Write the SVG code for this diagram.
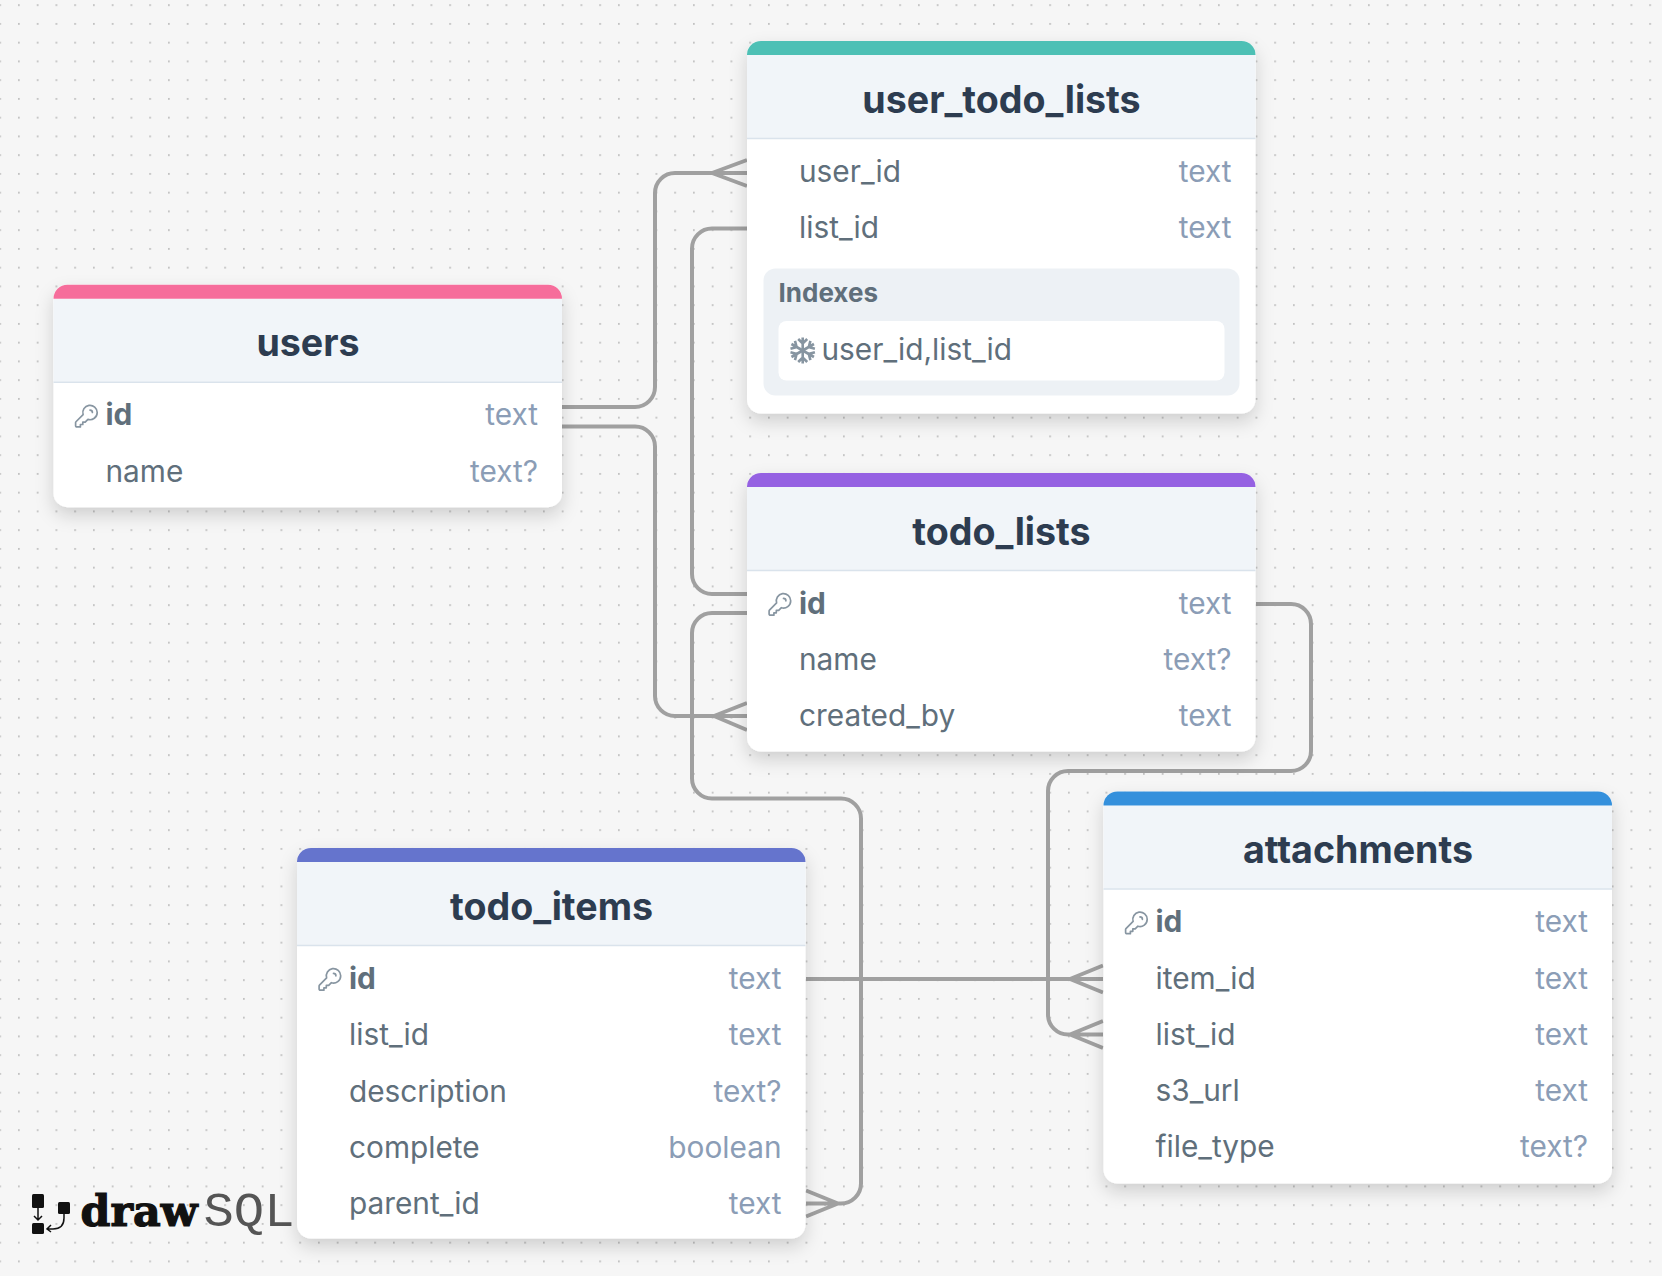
<svg xmlns="http://www.w3.org/2000/svg" width="1662" height="1276" viewBox="0 0 1662 1276">
<style>
text{font-family:Inter,"Liberation Sans",sans-serif}
.title{font-size:37.600px;font-weight:700;fill:#2d3c50;text-anchor:middle}
.n{font-size:29.800px;fill:#606f7b}
.k{font-size:29.800px;font-weight:700;fill:#606f7b}
.t{font-size:29.800px;fill:#8b9db6;text-anchor:end}
.card{fill:#fff}
.head{fill:#f1f5f9}
.rule{stroke:#dae3ec;stroke-width:1.5;fill:none}
.conn{fill:none;stroke:#a0a0a0;stroke-width:4}
.key{fill:none;stroke:#8795a1;stroke-width:1.4;stroke-linecap:round;stroke-linejoin:round}
</style>
<defs>
<pattern id="dots" x="18" y="4.2" width="18.75" height="18.75" patternUnits="userSpaceOnUse"><circle cx="0.9" cy="0.9" r="0.9" fill="#b0b0b0"/></pattern>
<filter id="sh" x="-10%" y="-10%" width="120%" height="130%"><feDropShadow dx="0" dy="8" stdDeviation="9" flood-color="#000" flood-opacity="0.16"/></filter>
<g id="keyicon"><path class="key" transform="scale(1.2)" d="M15 7a2 2 0 012 2m4 0a6 6 0 01-7.743 5.743L11 17H9v2H7v2H4a1 1 0 01-1-1v-2.586a1 1 0 01.293-.707l5.964-5.964A6 6 0 1121 9z"/></g>
</defs>
<rect width="1662" height="1276" fill="#f6f6f6"/>
<rect width="1662" height="1276" fill="url(#dots)"/>
<g id="connectors" class="conn">
<path d="M562 407H635A20 20 0 0 0 655 387V193A20 20 0 0 1 675 173H747M712 173L747 160M712 173L747 186"/>
<path d="M562 426.500H635A20 20 0 0 1 655 446.500V696A20 20 0 0 0 675 716H747M714 716L747 703M714 716L747 730"/>
<path d="M747 228.500H712A20 20 0 0 0 692 248.500V574A20 20 0 0 0 712 594H747"/>
<path d="M747 613H712A20 20 0 0 0 692 633V778.500A20 20 0 0 0 712 798.500H841A20 20 0 0 1 861 818.500V1183.500A20 20 0 0 1 841 1203.500H806M838 1203.500L806 1190.500M838 1203.500L806 1216.500"/>
<path d="M1256 604H1291A20 20 0 0 1 1311 624V751A20 20 0 0 1 1291 771H1068A20 20 0 0 0 1048 791V1014.500A20 20 0 0 0 1068 1034.500H1103M1070 1034.500L1103 1021M1070 1034.500L1103 1048"/>
<path d="M806 979H1103M1070 979L1103 965.500M1070 979L1103 992.500"/>
</g>
<g id="logo">
<rect x="32" y="1194" width="12" height="14" rx="1.500" fill="#111"/>
<rect x="32" y="1223" width="12" height="11" rx="1.500" fill="#111"/>
<rect x="58" y="1202" width="12" height="12" rx="1.500" fill="#111"/>
<path d="M38 1208V1220M34 1216L38 1220L42 1216M64 1214V1218Q64 1229 53 1229H47M51 1225L47 1229L51 1232" fill="none" stroke="#111" stroke-width="1.500"/>
<text x="80.500" y="1226" font-size="42" font-weight="700" textLength="117" lengthAdjust="spacingAndGlyphs" style="font-family:'DejaVu Serif',serif" fill="#111" stroke="#111" stroke-width="1.2">draw</text>
<text x="203.500" y="1226" font-size="48" textLength="91" lengthAdjust="spacingAndGlyphs" style="font-family:'Liberation Mono',monospace" fill="#555">SQL</text>
</g>
<g id="users" transform="translate(53.500 284.700)">
<rect class="card" width="508.500" height="222.500" rx="14" filter="url(#sh)"/>
<path class="head" d="M0 14H508.500V97H0Z"/><path fill="#f66d9b" d="M0 14A14 14 0 0 1 14 0H494.500A14 14 0 0 1 508.500 14Z"/><path class="rule" d="M0 97.500H508.500"/>
<text class="title" x="254.500" y="71.500">users</text>
<use href="#keyicon" x="18.500" y="117"/><text class="k" x="52" y="140.500">id</text><text class="t" x="484.500" y="140.500">text</text>
<text class="n" x="52" y="197">name</text><text class="t" x="484.500" y="197">text?</text>
</g>
<g id="user_todo_lists" transform="translate(747 41)">
<rect class="card" width="508.500" height="372.500" rx="14" filter="url(#sh)"/>
<path class="head" d="M0 14H508.500V97H0Z"/><path fill="#4dc0b5" d="M0 14A14 14 0 0 1 14 0H494.500A14 14 0 0 1 508.500 14Z"/><path class="rule" d="M0 97.500H508.500"/>
<text class="title" x="254.500" y="71.500">user_todo_lists</text>
<text class="n" x="52" y="140.500">user_id</text><text class="t" x="484.500" y="140.500">text</text>
<text class="n" x="52" y="197">list_id</text><text class="t" x="484.500" y="197">text</text>
<rect x="16.500" y="227.500" width="476" height="127" rx="12" fill="#edf1f5"/>
<rect x="31.500" y="280" width="446" height="59.500" rx="8" fill="#fff"/>
<text x="31.500" y="261" font-size="26" font-weight="700" fill="#606f7b">Indexes</text>
<g transform="translate(55.700 309.500)" fill="none" stroke="#8795a1" stroke-width="2.600"><path d="M0-13V13M-4.500-11.500L0-7L4.500-11.500M-4.500 11.500L0 7L4.500 11.500"/><path transform="rotate(60)" d="M0-13V13M-4.500-11.500L0-7L4.500-11.500M-4.500 11.500L0 7L4.500 11.500"/><path transform="rotate(120)" d="M0-13V13M-4.500-11.500L0-7L4.500-11.500M-4.500 11.500L0 7L4.500 11.500"/></g>
<text class="n" x="74.500" y="318.500">user_id,list_id</text>
</g>
<g id="todo_lists" transform="translate(747 473)">
<rect class="card" width="508.500" height="278.500" rx="14" filter="url(#sh)"/>
<path class="head" d="M0 14H508.500V97H0Z"/><path fill="#9561e2" d="M0 14A14 14 0 0 1 14 0H494.500A14 14 0 0 1 508.500 14Z"/><path class="rule" d="M0 97.500H508.500"/>
<text class="title" x="254.500" y="71.500">todo_lists</text>
<use href="#keyicon" x="18.500" y="117"/><text class="k" x="52" y="140.500">id</text><text class="t" x="484.500" y="140.500">text</text>
<text class="n" x="52" y="196.500">name</text><text class="t" x="484.500" y="196.500">text?</text>
<text class="n" x="52" y="253">created_by</text><text class="t" x="484.500" y="253">text</text>
</g>
<g id="attachments" transform="translate(1103.500 791.500)">
<rect class="card" width="508.500" height="392" rx="14" filter="url(#sh)"/>
<path class="head" d="M0 14H508.500V97H0Z"/><path fill="#3490dc" d="M0 14A14 14 0 0 1 14 0H494.500A14 14 0 0 1 508.500 14Z"/><path class="rule" d="M0 97.500H508.500"/>
<text class="title" x="254.500" y="71.500">attachments</text>
<use href="#keyicon" x="18.500" y="117"/><text class="k" x="52" y="140.500">id</text><text class="t" x="484.500" y="140.500">text</text>
<text class="n" x="52" y="197">item_id</text><text class="t" x="484.500" y="197">text</text>
<text class="n" x="52" y="253.500">list_id</text><text class="t" x="484.500" y="253.500">text</text>
<text class="n" x="52" y="309.500">s3_url</text><text class="t" x="484.500" y="309.500">text</text>
<text class="n" x="52" y="365.500">file_type</text><text class="t" x="484.500" y="365.500">text?</text>
</g>
<g id="todo_items" transform="translate(297 848)">
<rect class="card" width="508.500" height="390.500" rx="14" filter="url(#sh)"/>
<path class="head" d="M0 14H508.500V97H0Z"/><path fill="#6574cd" d="M0 14A14 14 0 0 1 14 0H494.500A14 14 0 0 1 508.500 14Z"/><path class="rule" d="M0 97.500H508.500"/>
<text class="title" x="254.500" y="71.500">todo_items</text>
<use href="#keyicon" x="18.500" y="117"/><text class="k" x="52" y="140.500">id</text><text class="t" x="484.500" y="140.500">text</text>
<text class="n" x="52" y="197">list_id</text><text class="t" x="484.500" y="197">text</text>
<text class="n" x="52" y="253.500">description</text><text class="t" x="484.500" y="253.500">text?</text>
<text class="n" x="52" y="309.500">complete</text><text class="t" x="484.500" y="309.500">boolean</text>
<text class="n" x="52" y="365.500">parent_id</text><text class="t" x="484.500" y="365.500">text</text>
</g>
</svg>
